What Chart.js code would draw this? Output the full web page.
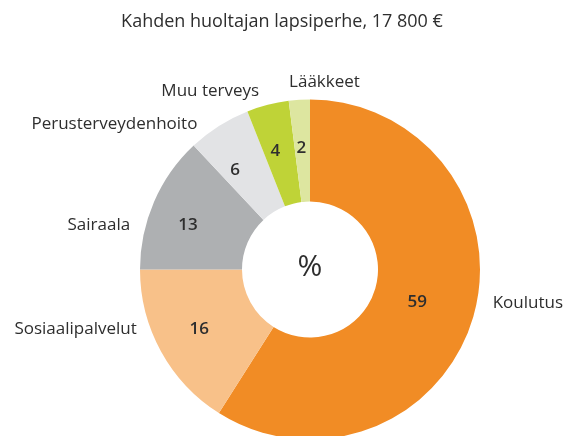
<!DOCTYPE html>
<html>
<head>
<meta charset="utf-8">
<script src="https://cdn.jsdelivr.net/npm/chart.js@4"></script>
<style>
  body { margin: 0; overflow: hidden; background: #fff; }
  #wrap { width: 567px; height: 440px; }
</style>
</head>
<body>
<div id="wrap"><canvas id="chart"></canvas></div>
<script>
// data
const title = "Kahden huoltajan lapsiperhe, 17 800 €";
const categories = ["Koulutus", "Sosiaalipalvelut", "Sairaala", "Perusterveydenhoito", "Muu terveys", "Lääkkeet"];
const shares = [59, 16, 13, 6, 4, 2];
const colors = ["#f18c25", "#f8c189", "#aeb0b2", "#e2e3e5", "#bfd337", "#dde6a0"];

// hand placed nudges for the labels (outer names and inner values)
const labelNudge = [[6, -13], [-12, -24], [-11, 34], [-14, 15], [-54, 5], [26, 1]];
const valueNudge = [[-11, -3], [-3, -1], [-9, 3], [-9, 3], [-4, 0], [-1, 0]];

const textColor = "#2e2e2e";
const fontFamily = "'Open Sans', sans-serif";

const pieLabels = {
  id: "pieLabels",
  afterDraw(chart) {
    const ctx = chart.ctx;
    const meta = chart.getDatasetMeta(0);
    ctx.save();
    ctx.fillStyle = textColor;
    ctx.textBaseline = "alphabetic";

    // title
    ctx.font = "18px " + fontFamily;
    ctx.textAlign = "center";
    ctx.fillText(title, 282, 27);

    meta.data.forEach((arc, i) => {
      const p = arc.getProps(["x", "y", "startAngle", "endAngle", "innerRadius", "outerRadius"], true);
      const mid = (p.startAngle + p.endAngle) / 2;
      const c = Math.cos(mid), s = Math.sin(mid);

      // value inside the slice
      const rv = p.innerRadius + 0.54 * (p.outerRadius - p.innerRadius);
      ctx.font = "600 17px " + fontFamily;
      ctx.textAlign = "center";
      ctx.fillText(shares[i], p.x + c * rv + valueNudge[i][0], p.y + s * rv + 6 + valueNudge[i][1]);

      // category label outside
      const ro = p.outerRadius + 14;
      ctx.font = "17px " + fontFamily;
      ctx.textAlign = Math.abs(c) < 0.3 ? "center" : (c > 0 ? "left" : "right");
      ctx.fillText(categories[i], p.x + c * ro + labelNudge[i][0], p.y + s * ro + labelNudge[i][1]);
    });

    // centre sign
    const a = meta.data[0];
    ctx.font = "30px " + fontFamily;
    ctx.textAlign = "center";
    ctx.textBaseline = "middle";
    ctx.fillText("%", a.x, a.y - 2);
    ctx.restore();
  }
};

const data = {
  labels: categories,
  datasets: [
    {
      data: shares,
      backgroundColor: colors,
      borderWidth: 0,
    },
  ],
};

const config = {
  type: "doughnut",
  data: data,
  options: {
    responsive: true,
    maintainAspectRatio: false,
    animation: false,
    cutout: "40%",
    layout: {
      padding: { left: 140, right: 87, top: 99.5, bottom: 0.5 },
    },
    plugins: {
      legend: { display: false },
      tooltip: { enabled: false },
    },
  },
  plugins: [pieLabels],
};

const myChart = new Chart(document.getElementById("chart"), config);
</script>
</body>
</html>
